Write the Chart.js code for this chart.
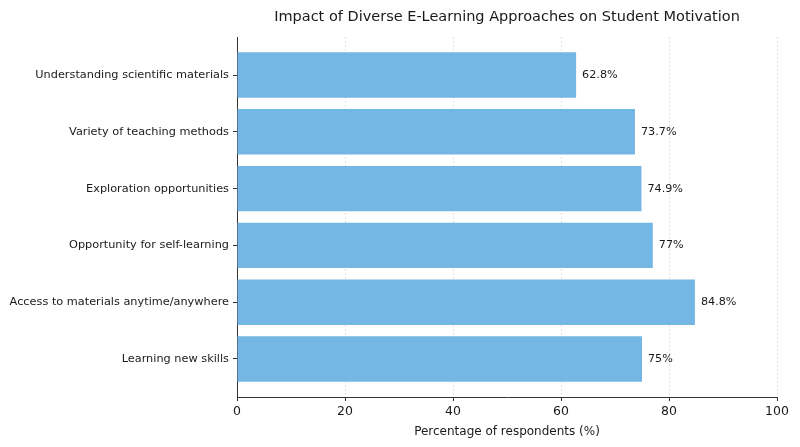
<!DOCTYPE html>
<html>
<head>
<meta charset="utf-8">
<script src="https://cdn.jsdelivr.net/npm/chart.js@4"></script>
<style>
  html, body { margin: 0; padding: 0; background: #fff; }
  #wrap { width: 800px; height: 447px; }
</style>
</head>
<body>
<div id="wrap"><canvas id="c" width="800" height="447"></canvas></div>
<script>
const categories = [
  "Understanding scientific materials",
  "Variety of teaching methods",
  "Exploration opportunities",
  "Opportunity for self-learning",
  "Access to materials anytime/anywhere",
  "Learning new skills"
];
const values = [62.8, 73.7, 74.9, 77, 84.8, 75];
const valueLabels = ["62.8%", "73.7%", "74.9%", "77%", "84.8%", "75%"];
const xTicks = [0, 20, 40, 60, 80, 100];

const FONT = "'DejaVu Sans', sans-serif";
const TXT = '#1a1a1a';

const labelPlugin = {
  id: 'valueLabels',
  afterDatasetsDraw(chart) {
    const ctx = chart.ctx;
    const meta = chart.getDatasetMeta(0);
    ctx.save();
    ctx.font = '11.2px ' + FONT;
    ctx.fillStyle = TXT;
    ctx.textAlign = 'left';
    ctx.textBaseline = 'middle';
    meta.data.forEach((bar, i) => {
      ctx.fillText(valueLabels[i], bar.x + 6, bar.y);
    });
    ctx.restore();
  }
};

new Chart(document.getElementById('c'), {
  type: 'bar',
  data: {
    datasets: [{
      data: values.map((v, i) => ({ x: v, y: i })),
      backgroundColor: '#74b6e4',
      borderWidth: 0,
      barPercentage: 0.8,
      categoryPercentage: 1.0
    }]
  },
  options: {
    indexAxis: 'y',
    responsive: false,
    animation: false,
    layout: { padding: { left: 0, right: 23, top: 0, bottom: 0 } },
    plugins: {
      legend: { display: false },
      tooltip: { enabled: false },
      title: {
        display: true,
        text: 'Impact of Diverse E-Learning Approaches on Student Motivation',
        fullSize: false,
        color: TXT,
        font: { family: FONT, size: 14.5, weight: 'normal' },
        padding: { top: 8.5, bottom: 11.1 }
      }
    },
    scales: {
      x: {
        type: 'linear',
        min: 0, max: 100,
        afterBuildTicks: (axis) => { axis.ticks = xTicks.map(v => ({ value: v })); },
        afterFit: (scale) => { scale.height = 50; },
        ticks: { color: TXT, font: { family: FONT, size: 12.5 }, padding: 3, maxRotation: 0 },
        grid: {
          color: (c) => (c.tick && c.tick.value === 0) ? 'rgba(0,0,0,0)' : '#d9d9d9',
          lineWidth: 1,
          drawTicks: true,
          tickLength: 4,
          tickColor: '#333'
        },
        border: { display: true, color: '#333', width: 1, dash: [1.5, 2.5] },
        title: {
          display: true,
          text: 'Percentage of respondents (%)',
          color: TXT,
          font: { family: FONT, size: 12 },
          padding: { top: 8, bottom: 8 }
        }
      },
      y: {
        type: 'linear',
        min: -0.67, max: 5.67,
        reverse: true,
        offset: false,
        afterBuildTicks: (axis) => { axis.ticks = categories.map((_, i) => ({ value: i })); },
        afterFit: (scale) => { scale.width = 237; },
        ticks: {
          color: TXT,
          font: { family: FONT, size: 11.3 },
          padding: 4,
          callback: (v) => categories[v]
        },
        grid: {
          offset: false,
          drawOnChartArea: false,
          drawTicks: true,
          tickLength: 4,
          tickColor: '#333'
        },
        border: { display: true, color: '#333', width: 1 }
      }
    }
  },
  plugins: [labelPlugin]
});
</script>
</body>
</html>
